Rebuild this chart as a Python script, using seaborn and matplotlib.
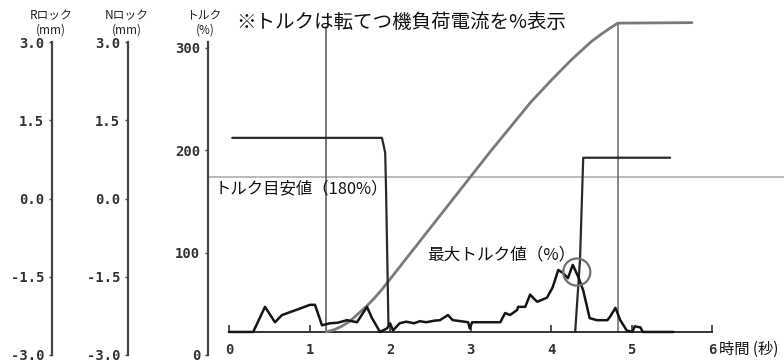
import matplotlib
matplotlib.use("Agg")
import matplotlib.pyplot as plt
import seaborn as sns

# ---------------- data ----------------
time_ticks = [0, 1, 2, 3, 4, 5, 6]
time_labels = ["0", "1", "2", "3", "4", "5", "6"]
torque_ticks = [0, 100, 200, 300]
torque_labels = ["0", "100", "200", "300"]
lock_ticks = [-3.0, -1.5, 0.0, 1.5, 3.0]
lock_labels = ["-3.0", "-1.5", "0.0", "1.5", "3.0"]

baseline = 22.5          # torque level of the time axis line
guide_value = 174        # トルク目安値 line
marker_times = [1.205, 4.83]
marker_tops = [320, 324.5]
peak_t, peak_v = 4.32, 81

torque_t = [0, 0.30, 0.447, 0.571, 0.658, 0.80, 1.006, 1.068, 1.155, 1.255, 1.35,
            1.466, 1.59, 1.714, 1.776, 1.876, 1.963, 2.0, 2.037, 2.12, 2.2, 2.3,
            2.37, 2.45, 2.55, 2.62, 2.72, 2.78, 2.88, 2.97, 2.99, 3.02, 3.2, 3.37,
            3.43, 3.49, 3.58, 3.59, 3.68, 3.74, 3.80, 3.83, 3.95, 4.02, 4.09, 4.15,
            4.21, 4.27, 4.34, 4.40, 4.48, 4.57, 4.70, 4.73, 4.80, 4.86, 4.94, 5.01,
            5.04, 5.11, 5.14, 5.52]
torque_v = [22.5, 22.5, 47, 32, 39, 43, 49, 49, 29, 31, 31.5,
            34, 32, 47, 36, 22.5, 26, 31, 24, 31, 32.5, 31,
            33, 32, 33.5, 34, 39, 34, 33, 32, 26, 32, 32, 32,
            41, 39, 44, 47, 47, 59, 54, 52, 56, 66, 83, 80,
            75, 88, 76, 63, 36, 34, 34, 37, 46, 34, 24, 22.5,
            28, 27, 22.5, 22.5]

speed_t = [1.205, 1.30, 1.40, 1.50, 1.60, 1.70, 1.80, 1.90, 2.00, 2.25, 2.50,
           2.75, 3.00, 3.25, 3.50, 3.75, 4.00, 4.25, 4.50, 4.62, 4.72, 4.79,
           4.83, 5.75]
speed_v = [22.5, 24.5, 28, 33, 40, 47, 55, 64, 74, 99, 124,
           149, 174, 199, 223, 247, 268, 288, 306, 313, 318.5, 322,
           324, 324.5]

step1_t = [0.04, 1.90, 1.94, 1.95, 1.975, 1.98]
step1_v = [212, 212, 197.5, 164, 54, 30]
step2_t = [4.30, 4.36, 4.40, 5.48]
step2_v = [22.5, 93, 192.6, 192.6]

# ---------------- style ----------------
sns.set_theme(style="white")
plt.rcParams['font.family'] = ['Noto Sans CJK JP', 'DejaVu Sans']

W, H = 784, 362
fig = plt.figure(figsize=(W / 100, H / 100), dpi=100)


def rect(x0, y0, x1, y1):
    return [x0 / W, 1 - y1 / H, (x1 - x0) / W, (y1 - y0) / H]


tick_font = dict(fontfamily='DejaVu Sans Mono', fontweight='bold', fontsize=10, color='#333333')
spine_col = '#444444'

# lock axes (R / N)
for xs in (52, 128):
    la = fig.add_axes(rect(xs, 42, xs + 20, 355))
    la.set_facecolor('none')
    la.set_ylim(-3, 3)
    la.set_xticks([])
    for s in ('top', 'right', 'bottom'):
        la.spines[s].set_visible(False)
    la.spines['left'].set_color(spine_col)
    la.spines['left'].set_linewidth(1.6)
    la.set_yticks(lock_ticks, labels=lock_labels, **tick_font)
    la.tick_params(axis='y', direction='out', length=2.5, width=1, color=spine_col, pad=3, left=True)

# main axes
ax = fig.add_axes(rect(208, 17, 784, 355))
ax.set_facecolor('none')
ax.set_xlim(-0.261, 6.894)
ax.set_ylim(0, 330)
for s in ('top', 'right'):
    ax.spines[s].set_visible(False)
ax.spines['left'].set_color(spine_col)
ax.spines['left'].set_linewidth(1.6)
ax.spines['left'].set_bounds(0, 306)
ax.spines['bottom'].set_position(('data', baseline))
ax.spines['bottom'].set_bounds(0, 6)
ax.spines['bottom'].set_color('#333333')
ax.spines['bottom'].set_linewidth(1.4)
ax.set_yticks(torque_ticks, labels=torque_labels, **tick_font)
ax.set_xticks(time_ticks, labels=time_labels, **tick_font)
ax.tick_params(axis='y', direction='out', length=2.5, width=1, color=spine_col, pad=3, left=True)
ax.tick_params(axis='x', direction='in', length=5, width=1.2, color='#333333', pad=8, bottom=True)

# reference lines
ax.axhline(guide_value, color='#a8a8a8', lw=1.1, zorder=1)
for mt, top, c in zip(marker_times, marker_tops, ['#555555', '#6a6a6a']):
    sns.lineplot(x=[mt, mt], y=[baseline, top], ax=ax, color=c, lw=1.1,
                 estimator=None, sort=False, zorder=2)

# data lines
sns.lineplot(x=speed_t, y=speed_v, ax=ax, color='#7a7a7a', lw=2.0,
             estimator=None, sort=False, zorder=3)
sns.lineplot(x=step1_t, y=step1_v, ax=ax, color='#2a2a2a', lw=1.6,
             estimator=None, sort=False, zorder=4)
sns.lineplot(x=step2_t, y=step2_v, ax=ax, color='#2a2a2a', lw=1.6,
             estimator=None, sort=False, zorder=4)
sns.lineplot(x=torque_t, y=torque_v, ax=ax, color='#151515', lw=1.8,
             estimator=None, sort=False, zorder=5)
ax.scatter([peak_t], [peak_v], s=380, facecolors='none', edgecolors='#6f6f6f',
           linewidths=1.6, zorder=6)
ax.set_xlabel('')
ax.set_ylabel('')

# texts
def ftext(x, y, s, **kw):
    fig.text(x / W, 1 - y / H, s, **kw)

hdr = dict(fontsize=8.5, ha='center', va='center', color='#222222')
ftext(51, 16, "Rロック", **hdr)
ftext(51, 30, "(mm)", **hdr)
ftext(127, 16, "Nロック", **hdr)
ftext(127, 30, "(mm)", **hdr)
ftext(204, 16, "トルク", **hdr)
ftext(205, 30, "(%)", **hdr)
ftext(236, 22, "※トルクは転てつ機負荷電流を%表示", fontsize=14, ha='left', va='center', color='#111111')
ftext(215, 189, "トルク目安値（180%）", fontsize=11.8, ha='left', va='center', color='#111111')
ftext(427, 255, "最大トルク値（%）", fontsize=12, ha='left', va='center', color='#111111')
ftext(719, 349, "時間 (秒)", fontsize=11, ha='left', va='center', color='#111111')

fig.savefig("out.png", dpi=100)
